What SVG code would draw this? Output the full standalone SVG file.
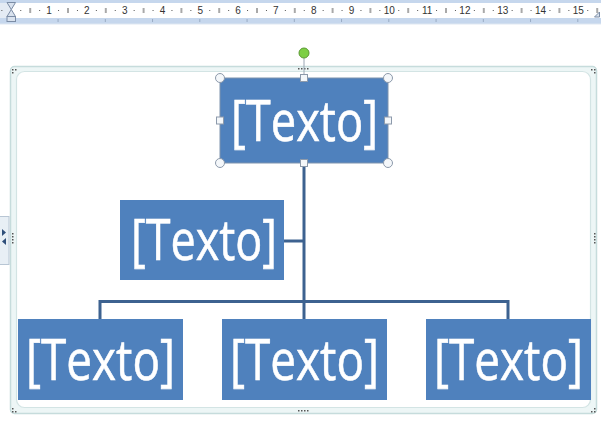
<svg xmlns="http://www.w3.org/2000/svg" width="601" height="421" viewBox="0 0 601 421">
  <defs>
    <style>
      .node { fill: #4f81bd; }
      .lbl { font-family: "Open Sans", "Liberation Sans", sans-serif; font-size: 56px; fill: #ffffff; stroke: #ffffff; stroke-width: 0.6; text-anchor: middle; }
      .conn { stroke: #3d6290; stroke-width: 3; fill: none; }
      .rnum { font-family: "Liberation Sans", Arial, sans-serif; font-size: 10px; fill: #333333; text-anchor: middle; }
      .hc { fill: #f4f7fa; stroke: #8d9aab; stroke-width: 1; }
      .dots { fill: #555555; }
    </style>
    <pattern id="rtick" patternUnits="userSpaceOnUse" x="11.3" y="0" width="37.8" height="24">
      <rect x="8.95" y="10" width="1" height="1" fill="#555"/>
      <rect x="18.4" y="8" width="1" height="5" fill="#555"/>
      <rect x="27.85" y="10" width="1" height="1" fill="#555"/>
    </pattern>
    <pattern id="tabtick" patternUnits="userSpaceOnUse" x="11.3" y="0" width="47.25" height="24">
      <rect x="46.75" y="19" width="1" height="3" fill="#6b7f99"/>
    </pattern>
  </defs>

  <!-- ruler -->
  <g id="ruler">
    <rect x="0" y="0" width="601" height="24" fill="#c6d7ed"/>
    <rect x="0" y="3" width="601" height="15" fill="#ffffff"/>
    <rect x="0" y="3" width="11" height="15" fill="#e4ebf4"/>
    <rect x="0" y="0" width="601" height="24" fill="url(#rtick)"/>
    <rect x="12" y="18" width="589" height="6" fill="url(#tabtick)"/>
    <line x1="0" y1="24" x2="601" y2="24" stroke="#dfe7f1" stroke-width="1"/>
    <text class="rnum" x="49.1" y="14">1</text>
    <text class="rnum" x="86.9" y="14">2</text>
    <text class="rnum" x="124.7" y="14">3</text>
    <text class="rnum" x="162.5" y="14">4</text>
    <text class="rnum" x="200.3" y="14">5</text>
    <text class="rnum" x="238.1" y="14">6</text>
    <text class="rnum" x="275.9" y="14">7</text>
    <text class="rnum" x="313.7" y="14">8</text>
    <text class="rnum" x="351.5" y="14">9</text>
    <text class="rnum" x="389.3" y="14">10</text>
    <text class="rnum" x="427.1" y="14">11</text>
    <text class="rnum" x="464.9" y="14">12</text>
    <text class="rnum" x="502.7" y="14">13</text>
    <text class="rnum" x="540.5" y="14">14</text>
    <text class="rnum" x="578.3" y="14">15</text>
    <!-- indent markers -->
    <path d="M7,2.5 L15.5,2.5 L11.3,9.5 Z" fill="#d9e2ee" stroke="#7b8ca5" stroke-width="1"/>
    <path d="M11.3,9.5 L15.5,16.5 L7,16.5 Z" fill="#d9e2ee" stroke="#7b8ca5" stroke-width="1"/>
    <rect x="7" y="16.5" width="8.5" height="5" fill="#d9e2ee" stroke="#7b8ca5" stroke-width="1"/>
    <path d="M594.5,17 L599.5,17 L599.5,12 Z" fill="#d9e2ee" stroke="#7b8ca5" stroke-width="1"/>
  </g>

  <!-- smartart frame -->
  <g id="frame">
    <rect x="10.5" y="66.5" width="586" height="347" rx="4" fill="#edf6f6" stroke="#c6dcdc" stroke-width="1.5"/>
    <rect x="16.5" y="71.5" width="574" height="336" rx="8" fill="#ffffff" stroke="#d3e4e4" stroke-width="1.2"/>
    <!-- dotted grips -->
    <g class="dots">
      <rect x="12" y="69" width="1.5" height="1.5"/><rect x="15" y="69" width="1.5" height="1.5"/><rect x="12" y="72" width="1.5" height="1.5"/>
      <rect x="591" y="69" width="1.5" height="1.5"/><rect x="594" y="69" width="1.5" height="1.5"/><rect x="594" y="72" width="1.5" height="1.5"/>
      <rect x="12" y="408" width="1.5" height="1.5"/><rect x="12" y="411" width="1.5" height="1.5"/><rect x="15" y="411" width="1.5" height="1.5"/>
      <rect x="594" y="408" width="1.5" height="1.5"/><rect x="594" y="411" width="1.5" height="1.5"/><rect x="591" y="411" width="1.5" height="1.5"/>
      <rect x="298" y="68" width="1.5" height="1.5"/><rect x="301" y="68" width="1.5" height="1.5"/><rect x="304" y="68" width="1.5" height="1.5"/><rect x="307" y="68" width="1.5" height="1.5"/>
      <rect x="298" y="410" width="1.5" height="1.5"/><rect x="301" y="410" width="1.5" height="1.5"/><rect x="304" y="410" width="1.5" height="1.5"/><rect x="307" y="410" width="1.5" height="1.5"/>
      <rect x="12" y="233" width="1.5" height="1.5"/><rect x="12" y="236" width="1.5" height="1.5"/><rect x="12" y="239" width="1.5" height="1.5"/><rect x="12" y="242" width="1.5" height="1.5"/>
      <rect x="594" y="233" width="1.5" height="1.5"/><rect x="594" y="236" width="1.5" height="1.5"/><rect x="594" y="239" width="1.5" height="1.5"/><rect x="594" y="242" width="1.5" height="1.5"/>
    </g>
    <!-- text pane tab -->
    <rect x="-1" y="216.5" width="10" height="48" fill="#e8eff5" stroke="#b8c6d4" stroke-width="1"/>
    <path d="M2,229 L6,232.5 L2,236 Z" fill="#2f4f7a"/>
    <path d="M6,238 L2,241.5 L6,245 Z" fill="#2f4f7a"/>
  </g>

  <!-- connectors -->
  <g id="connectors">
    <path class="conn" d="M304,163 V319"/>
    <path class="conn" d="M284,241 H304"/>
    <path class="conn" d="M100,319 V301.5 H508 V319"/>
  </g>

  <!-- nodes -->
  <g id="node-top">
    <rect class="node" x="220" y="78" width="168" height="85" stroke="#7e93ae" stroke-width="1"/>
    <text class="lbl" x="304.5" y="141" textLength="147" lengthAdjust="spacingAndGlyphs">[Texto]</text>
  </g>
  <g id="node-assistant">
    <rect class="node" x="120" y="200" width="164" height="80"/>
    <text class="lbl" x="204" y="260" textLength="146" lengthAdjust="spacingAndGlyphs">[Texto]</text>
  </g>
  <g id="node-left">
    <rect class="node" x="18" y="319" width="165" height="81"/>
    <text class="lbl" x="100.5" y="380" textLength="149" lengthAdjust="spacingAndGlyphs">[Texto]</text>
  </g>
  <g id="node-center">
    <rect class="node" x="222" y="319" width="165" height="81"/>
    <text class="lbl" x="304.5" y="380" textLength="149" lengthAdjust="spacingAndGlyphs">[Texto]</text>
  </g>
  <g id="node-right">
    <rect class="node" x="426" y="319" width="165" height="81"/>
    <text class="lbl" x="508.5" y="380" textLength="149" lengthAdjust="spacingAndGlyphs">[Texto]</text>
  </g>

  <!-- selection handles on top node -->
  <g id="selection">
    <line x1="304" y1="58" x2="304" y2="75" stroke="#9aa6b4" stroke-width="1"/>
    <circle cx="304" cy="53" r="5" fill="#7dcf45" stroke="#5b9a33" stroke-width="1"/>
    <circle class="hc" cx="220" cy="78" r="4.5"/>
    <circle class="hc" cx="388" cy="78" r="4.5"/>
    <circle class="hc" cx="220" cy="163" r="4.5"/>
    <circle class="hc" cx="388" cy="163" r="4.5"/>
    <rect class="hc" x="300.5" y="74.5" width="7" height="7"/>
    <rect class="hc" x="300.5" y="159.5" width="7" height="7"/>
    <rect class="hc" x="216.5" y="117" width="7" height="7"/>
    <rect class="hc" x="384.5" y="117" width="7" height="7"/>
  </g>
</svg>
